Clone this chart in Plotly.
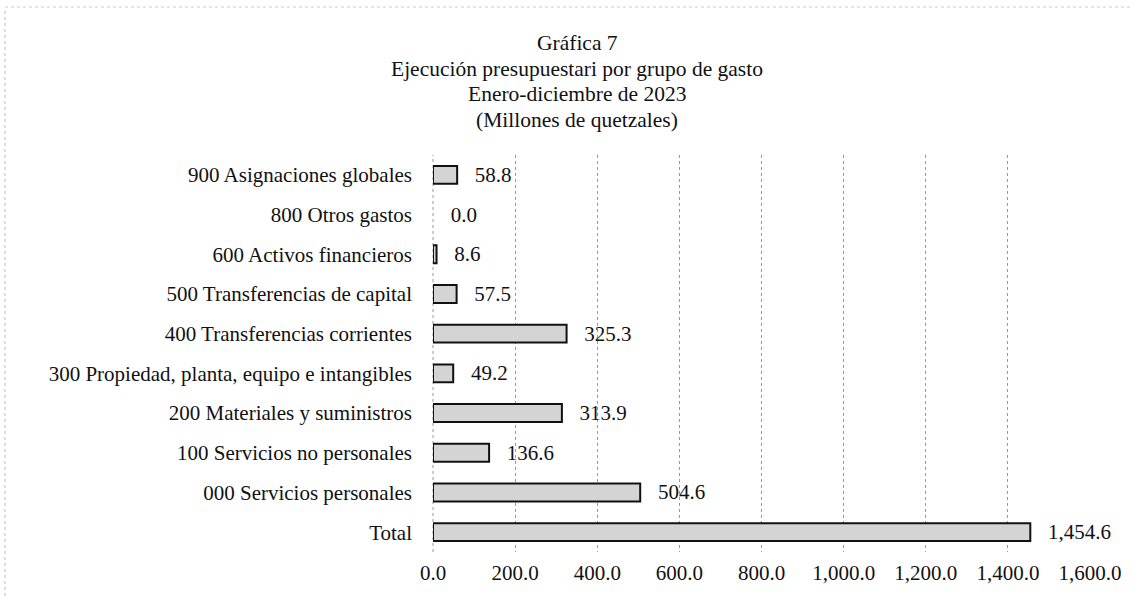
import plotly.graph_objects as go

categories = [
    "Total",
    "000 Servicios personales",
    "100 Servicios no personales",
    "200 Materiales y suministros",
    "300 Propiedad, planta, equipo e intangibles",
    "400 Transferencias corrientes",
    "500 Transferencias de capital",
    "600 Activos financieros",
    "800 Otros gastos",
    "900 Asignaciones globales",
]
values = [1454.6, 504.6, 136.6, 313.9, 49.2, 325.3, 57.5, 8.6, 0.0, 58.8]
tick_vals = [0, 200, 400, 600, 800, 1000, 1200, 1400, 1600]
tick_text = ["0.0", "200.0", "400.0", "600.0", "800.0", "1,000.0", "1,200.0", "1,400.0", "1,600.0"]

title_lines = [
    "Gráfica 7",
    "Ejecución presupuestari por grupo de gasto",
    "Enero-diciembre de 2023",
    "(Millones de quetzales)",
]

FONT = "Liberation Serif, Times New Roman, serif"
FS = 21

W, H = 1133, 596
L, R, T, B = 433, 43, 155, 44
PW = W - L - R
PH = H - T - B

fig = go.Figure()
fig.add_trace(go.Bar(
    y=categories,
    x=values,
    orientation="h",
    marker=dict(color="#d4d4d4",
                line=dict(color="#111111", width=[0 if v == 0 else 2 for v in values])),
    text=["\u00a0\u00a0\u2009" + f"{v:,.1f}" for v in values],
    textposition="outside",
    constraintext="none",
    cliponaxis=False,
    textfont=dict(family=FONT, size=FS, color="#111111"),
    hoverinfo="skip",
))

annotations = []
for i, line in enumerate(title_lines):
    center_px = 43 + i * 25.7
    annotations.append(dict(
        text=line,
        x=(577 - L) / PW, xref="paper", xanchor="center",
        y=1 + (T - center_px) / PH, yref="paper", yanchor="middle",
        showarrow=False,
        font=dict(family=FONT, size=21.5, color="#111111"),
    ))

fig.update_layout(
    width=W,
    height=H,
    paper_bgcolor="white",
    plot_bgcolor="white",
    margin=dict(l=L, r=R, t=T, b=B, autoexpand=False),
    bargap=0.55,
    showlegend=False,
    font=dict(family=FONT, size=FS, color="#111111"),
    annotations=annotations,
    shapes=[
        # scanned frame edges
        dict(type="line", xref="paper", yref="paper",
             x0=-(L - 5) / PW, x1=-(L - 5) / PW,
             y0=-B / PH, y1=1 + (T - 8) / PH,
             line=dict(color="#bbbbbb", width=1, dash="dot")),
        dict(type="line", xref="paper", yref="paper",
             x0=-(L - 5) / PW, x1=1 + (R - 2) / PW,
             y0=1 + (T - 7) / PH, y1=1 + (T - 7) / PH,
             line=dict(color="#cccccc", width=1, dash="dot")),
        # dotted category axis line at zero
        dict(type="line", xref="paper", yref="paper",
             x0=0, x1=0, y0=0, y1=1, layer="below",
             line=dict(color="#999999", width=1, dash="dot")),
    ],
)

fig.update_xaxes(
    range=[0, 1600],
    tickvals=tick_vals,
    ticktext=tick_text,
    showgrid=True,
    gridcolor="#999999",
    griddash="dot",
    gridwidth=1,
    zeroline=False,
    showline=False,
    ticks="",
    ticklabelstandoff=6,
    tickfont=dict(family=FONT, size=FS, color="#111111"),
)
fig.update_yaxes(
    categoryorder="array",
    categoryarray=categories,
    showline=False,
    ticks="",
    ticklabelstandoff=20,
    tickfont=dict(family=FONT, size=FS, color="#111111"),
    showgrid=False,
)

fig.write_html(
    "out.html",
    config={"displayModeBar": False},
    post_script="document.body.style.margin='0';document.body.style.padding='0';",
)
